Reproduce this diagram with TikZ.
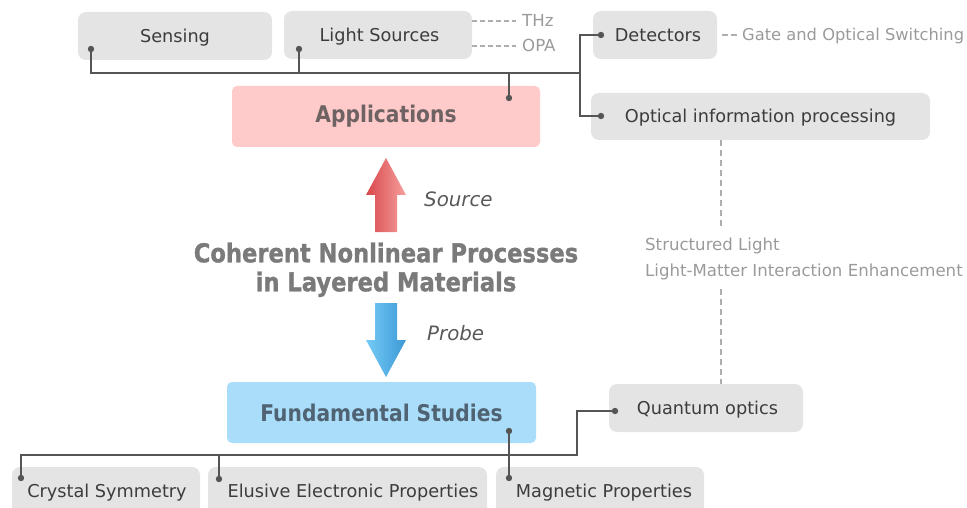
\documentclass[tikz,border=0pt]{standalone}
\usepackage{fontspec}
\setmainfont{DejaVu Sans}
\newfontfamily\heavyfont[FakeBold=1.2]{DejaVu Sans Bold}
\usetikzlibrary{calc}
\definecolor{boxgray}{HTML}{E4E4E4}
\definecolor{txtdark}{HTML}{3C3C3C}
\definecolor{txtlight}{HTML}{9A9A9A}
\definecolor{linedark}{HTML}{555555}
\definecolor{appfill}{HTML}{FFCACA}
\definecolor{apptext}{HTML}{6E6262}
\definecolor{fundfill}{HTML}{AADDFA}
\definecolor{fundtext}{HTML}{4F6373}
\definecolor{titlegray}{HTML}{7A7A7A}
\definecolor{redL}{HTML}{D9474B}
\definecolor{redR}{HTML}{F5A09E}
\definecolor{blueL}{HTML}{74CBF7}
\definecolor{blueR}{HTML}{3D98D5}
\newcommand{\narrow}[1]{\scalebox{0.88}[1]{#1}}
\tikzset{
  item/.style={fill=boxgray, rounded corners=8pt, inner sep=0pt, text=txtdark,
    text height=15pt, text depth=2.1pt, font=\fontsize{17.7}{21}\selectfont},
  mainbox/.style={rounded corners=5pt, inner sep=0pt,
    font=\fontsize{23}{27}\selectfont\bfseries},
  label/.style={text=txtdark, inner sep=0pt, text height=15pt, text depth=2.1pt,
    font=\fontsize{17.7}{21}\selectfont},
  link/.style={draw=linedark, line width=2pt},
  hint/.style={draw=txtlight!80, line width=1.3pt, dash pattern=on 5pt off 3pt},
  vhint/.style={draw=txtlight!80, line width=1.3pt, dash pattern=on 6pt off 4pt},
  note/.style={text=txtlight, inner sep=0pt, anchor=west, text height=14pt, text depth=2pt,
    font=\fontsize{16.6}{19}\selectfont},
  dot/.style={fill=linedark},
  tag/.style={text=txtdark!85, inner sep=0pt, font=\fontsize{19.8}{23}\selectfont\itshape}
}
\begin{document}
\begin{tikzpicture}[x=1pt, y=-1pt]
\useasboundingbox (0,0) rectangle (967,508);
\clip (0,0) rectangle (967,508);

% application boxes
\node[item, minimum width=194pt, minimum height=48pt] (sensing) at (175,36) {Sensing};
\node[item, minimum width=188pt, minimum height=48pt] (lightsrc) at (378,35) {\hspace{3pt}Light Sources};
\node[item, minimum width=124pt, minimum height=48pt] (detectors) at (655,35) {\hspace{6pt}Detectors};
\node[item, minimum width=339pt, minimum height=47pt] (oip) at (760.5,116.5) {Optical information processing};
\node[mainbox, fill=appfill, text=apptext, minimum width=308pt, minimum height=61pt] (apps) at (386,116.5) {\narrow{Applications}};

% fundamental studies boxes
\node[mainbox, fill=fundfill, text=fundtext, minimum width=309pt, minimum height=61pt] (fund) at (381.5,412.5) {\narrow{Fundamental Studies}};
\node[item, minimum width=194pt, minimum height=48pt] (quantum) at (706,408) {\hspace{3pt}Quantum optics};
\node[item, minimum width=188pt, minimum height=56pt] (crystal) at (106,495) {};
\node[item, minimum width=279pt, minimum height=56pt] (elusive) at (347.5,495) {};
\node[item, minimum width=208pt, minimum height=56pt] (magnetic) at (600,495) {};
\node[label] (crystalT) at (107,491) {Crystal Symmetry};
\node[label] (elusiveT) at (353,491) {Elusive Electronic Properties};
\node[label] (magneticT) at (604,491) {Magnetic Properties};

% side notes
\node[note] (thz) at (522,21) {THz};
\node[note] (opa) at (522,46) {OPA};
\node[note, font=\fontsize{16.3}{19}\selectfont] (gate) at (742,35) {Gate and Optical Switching};
\node[note] (struct) at (645,244) {Structured Light};
\node[note] (lmi) at (645,270) {Light-Matter Interaction Enhancement};

\draw[hint] (lightsrc.east |- thz) -- ($(thz.west)+(-6,0)$);
\draw[hint] (lightsrc.east |- opa) -- ($(opa.west)+(-6,0)$);
\draw[hint, dash pattern=on 6pt off 3pt] ($(detectors.east)+(5,0)$) -- ($(gate.west)+(-4,0)$);
\draw[vhint] (oip.south -| 721,0) -- (721,229);
\draw[vhint] (721,289) -- (quantum.north -| 721,0);

% title and arrows
\node[text=titlegray, inner sep=0pt] (title) at (386,271)
  {\scalebox{0.87}[1]{\heavyfont\fontsize{26}{29}\selectfont
   \begin{tabular}{@{}c@{}}Coherent Nonlinear Processes\\in Layered Materials\end{tabular}}};
\shade[left color=redL, right color=redR]
  (375,232) -- (375,195) -- (366,195) -- (386,158) -- (406,195) -- (397,195) -- (397,232) -- cycle;
\shade[left color=blueL, right color=blueR]
  (375,303) -- (375,340) -- (366,340) -- (386,377) -- (406,340) -- (397,340) -- (397,303) -- cycle;
\node[tag, anchor=west] (source) at (424,199) {Source};
\node[tag, anchor=west] (probe) at (427,333) {Probe};

% upper connector tree
\coordinate (dS) at (91,49);
\coordinate (dL) at (299,49);
\coordinate (dA) at (509,98);
\coordinate (dD) at (601,35);
\coordinate (dO) at (601,116);
\coordinate (hub) at (580,73);
\draw[link] (dS) -- (dS |- hub) -- (hub);
\draw[link] (dL) -- (dL |- hub);
\draw[link] (dA) -- (dA |- hub);
\draw[link] (dD) -- (dD -| hub) -- (dO -| hub) -- (dO);

% lower connector tree
\coordinate (dF) at (509,431);
\coordinate (dQ) at (615,411);
\coordinate (dC) at (21,478);
\coordinate (dE) at (219,479);
\coordinate (dM) at (509,478);
\coordinate (bend) at (577,455);
\draw[link] (dC) -- (dC |- bend) -- (bend) -- (bend |- dQ) -- (dQ);
\draw[link] (dE) -- (dE |- bend);
\draw[link] (dF) -- (dM);

\foreach \p in {dS,dL,dA,dD,dO,dF,dQ,dC,dE,dM}
  \fill[dot] (\p) circle (3.2pt);
\end{tikzpicture}
\end{document}
